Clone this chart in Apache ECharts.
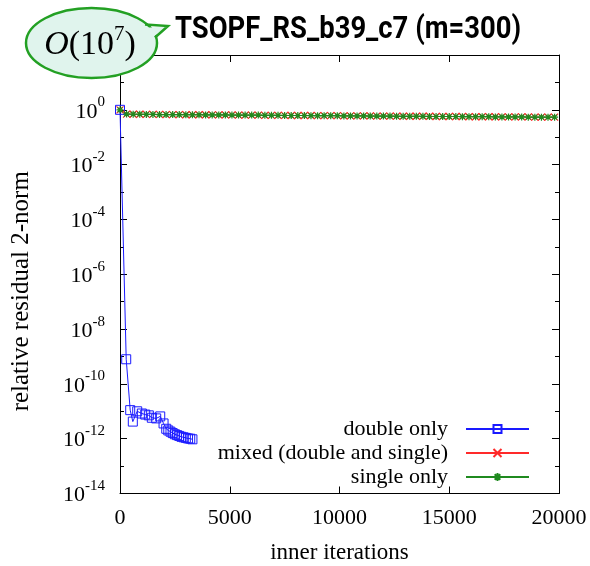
<!DOCTYPE html>
<html>
<head>
<meta charset="utf-8">
<script src="https://cdn.jsdelivr.net/npm/echarts@6/dist/echarts.min.js"></script>
<style>
  html, body { margin: 0; padding: 0; background: #fff; }
  #chart { width: 590px; height: 566px; }
</style>
</head>
<body>
<div id="chart"></div>
<script>
// Convergence history of GMRES(300) on TSOPF_RS_b39_c7
const titleText = 'TSOPF_RS_b39_c7 (m=300)';
const seriesNames = ['double only', 'mixed (double and single)', 'single only'];
const xAxisName = 'inner iterations';
const yAxisName = 'relative residual 2-norm';

// double precision run
const doubleIter = [0, 283, 465, 584, 784, 995, 1150, 1314, 1450, 1650, 1833, 1984, 2107,
  2200, 2300, 2400, 2500, 2600, 2700, 2800, 2900, 3000, 3100, 3200, 3300];
const doubleRes = [1, 7.9e-10, 1.1e-11, 4.2e-12, 1.0e-11, 8.3e-12, 7.6e-12, 7.1e-12, 5.8e-12,
  5.5e-12, 6.5e-12, 3.6e-12, 2.3e-12, 2.0e-12, 1.8e-12, 1.6e-12, 1.45e-12, 1.35e-12,
  1.26e-12, 1.17e-12, 1.12e-12, 1.07e-12, 1.02e-12, 1.0e-12, 9.5e-13];

// restart points of the mixed and single precision runs
const restartIter = [0, 300, 600, 900, 1200, 1500, 1800, 2100, 2400, 2700, 3000, 3300, 3600,
  3900, 4200, 4500, 4800, 5100, 5400, 5700, 6000, 6300, 6600, 6900, 7200, 7500, 7800,
  8100, 8400, 8700, 9000, 9300, 9600, 9900, 10200, 10500, 10800, 11100, 11400, 11700,
  12000, 12300, 12600, 12900, 13200, 13500, 13800, 14100, 14400, 14700, 15000, 15300,
  15600, 15900, 16200, 16500, 16800, 17100, 17400, 17700, 18000, 18300, 18600, 18900,
  19200, 19500, 19800];
const mixedRes = [1, 0.70, 0.69, 0.69, 0.68, 0.68, 0.68, 0.67, 0.67, 0.67, 0.66, 0.66, 0.66,
  0.66, 0.65, 0.65, 0.65, 0.65, 0.64, 0.64, 0.64, 0.64, 0.63, 0.63, 0.63, 0.63, 0.62,
  0.62, 0.62, 0.62, 0.61, 0.61, 0.61, 0.61, 0.60, 0.60, 0.60, 0.60, 0.60, 0.59,
  0.59, 0.59, 0.59, 0.58, 0.58, 0.58, 0.58, 0.58, 0.57, 0.57, 0.57, 0.57,
  0.57, 0.56, 0.56, 0.56, 0.56, 0.56, 0.55, 0.55, 0.55, 0.55, 0.55, 0.54,
  0.54, 0.54, 0.54];
const singleRes = [1, 0.70, 0.69, 0.69, 0.68, 0.68, 0.67, 0.67, 0.67, 0.67, 0.66, 0.66, 0.66,
  0.65, 0.65, 0.65, 0.65, 0.64, 0.64, 0.64, 0.64, 0.64, 0.63, 0.63, 0.63, 0.62, 0.62,
  0.62, 0.62, 0.61, 0.61, 0.61, 0.61, 0.61, 0.60, 0.60, 0.60, 0.60, 0.59, 0.59,
  0.59, 0.59, 0.58, 0.58, 0.58, 0.58, 0.58, 0.57, 0.57, 0.57, 0.57, 0.57,
  0.56, 0.56, 0.56, 0.56, 0.56, 0.55, 0.55, 0.55, 0.55, 0.55, 0.54, 0.54,
  0.54, 0.54, 0.54];

// axis ranges and tick positions
const xMin = 0, xMax = 20000, xStep = 5000;
const yMin = 1e-14, yMax = 1e2;
const yMajorTicks = [1e-14, 1e-12, 1e-10, 1e-8, 1e-6, 1e-4, 1e-2, 1e0, 1e2];
const yMinorTicks = [1e-13, 1e-11, 1e-9, 1e-7, 1e-5, 1e-3, 1e-1, 1e1];

const SERIF = '"Liberation Serif", "DejaVu Serif", serif';
const BLUE = '#1a1aff', RED = '#ff2a2a', GREEN = '#1f8a1f';
const BUBBLE_FILL = '#e0f4ed', BUBBLE_EDGE = '#23a023';

const pairs = (xs, ys) => xs.map((x, i) => [x, ys[i]]);

const axisLineStyle = { show: true, lineStyle: { color: '#000', width: 1 } };
const logBase = { type: 'log', logBase: 10, min: yMin, max: yMax, splitLine: { show: false } };
const majorTick = { inside: true, length: 7, customValues: yMajorTicks, lineStyle: { color: '#000' } };
const minorTick = { inside: true, length: 4, customValues: yMinorTicks, lineStyle: { color: '#000' } };

const chart = echarts.init(document.getElementById('chart'), null, { renderer: 'canvas' });
chart.setOption({
  animation: false,
  backgroundColor: '#fff',
  grid: { left: 120, top: 55, width: 439, height: 438.5, outerBoundsMode: 'none' },
  legend: {
    orient: 'vertical', right: 60, top: 418, align: 'right', padding: 0,
    itemWidth: 63, itemHeight: 10, itemGap: 2,
    selectedMode: false,
    textStyle: { fontFamily: SERIF, fontSize: 22, color: '#000', lineHeight: 20, padding: [0, 13, 0, 0] },
    data: seriesNames
  },
  xAxis: [
    {
      type: 'value', position: 'bottom', min: xMin, max: xMax, interval: xStep,
      axisLine: axisLineStyle,
      axisTick: { inside: true, length: 7, lineStyle: { color: '#000' } },
      axisLabel: { fontFamily: SERIF, fontSize: 22, color: '#000', margin: 14, formatter: v => String(v) },
      splitLine: { show: false },
      name: xAxisName, nameLocation: 'middle', nameGap: 48,
      nameTextStyle: { fontFamily: SERIF, fontSize: 23, color: '#000' }
    },
    {
      type: 'value', position: 'top', min: xMin, max: xMax, interval: xStep,
      axisLine: axisLineStyle,
      axisTick: { inside: true, length: 7, lineStyle: { color: '#000' } },
      axisLabel: { show: false }, splitLine: { show: false }
    }
  ],
  yAxis: [
    {
      ...logBase, position: 'left',
      axisLine: axisLineStyle,
      axisTick: majorTick,
      axisLabel: {
        margin: 15,
        customValues: yMajorTicks,
        formatter: v => `{b|10}{s|${Math.round(Math.log10(v))}}`,
        rich: {
          b: { fontFamily: SERIF, fontSize: 22, color: '#000', lineHeight: 30, padding: [4, 0, 0, 0] },
          s: { fontFamily: SERIF, fontSize: 15, color: '#000', verticalAlign: 'top' }
        }
      },
      name: yAxisName, nameLocation: 'middle', nameGap: 86,
      nameTextStyle: { fontFamily: SERIF, fontSize: 25, color: '#000', padding: [0, 34, 0, 0] }
    },
    {
      ...logBase, position: 'left',
      axisLine: { show: false },
      axisTick: minorTick,
      axisLabel: { show: false }
    },
    {
      ...logBase, position: 'right',
      axisLine: axisLineStyle,
      axisTick: majorTick,
      axisLabel: { show: false }
    },
    {
      ...logBase, position: 'right',
      axisLine: { show: false },
      axisTick: minorTick,
      axisLabel: { show: false }
    }
  ],
  series: [
    {
      name: seriesNames[0], type: 'line', xAxisIndex: 0, yAxisIndex: 0,
      data: pairs(doubleIter, doubleRes),
      symbol: 'path://M0,0L10,0L10,10L0,10Z', symbolSize: 9,
      lineStyle: { color: BLUE, width: 1 },
      itemStyle: { color: 'rgba(0,0,0,0)', borderColor: BLUE, borderWidth: 1 },
      emphasis: { disabled: true }
    },
    {
      name: seriesNames[1], type: 'line', xAxisIndex: 0, yAxisIndex: 0,
      data: pairs(restartIter, mixedRes),
      symbol: 'path://M0,0L10,10M0,10L10,0', symbolSize: 7,
      lineStyle: { color: RED, width: 1 },
      itemStyle: { color: 'rgba(0,0,0,0)', borderColor: RED, borderWidth: 1.2 },
      emphasis: { disabled: true }
    },
    {
      name: seriesNames[2], type: 'line', xAxisIndex: 0, yAxisIndex: 0,
      data: pairs(restartIter, singleRes),
      symbol: 'path://M0,5L10,5M5,0L5,10M1.5,1.5L8.5,8.5M1.5,8.5L8.5,1.5', symbolSize: 7,
      lineStyle: { color: GREEN, width: 1 },
      itemStyle: { color: 'rgba(0,0,0,0)', borderColor: GREEN, borderWidth: 1.2 },
      emphasis: { disabled: true }
    }
  ],
  graphic: [
    // chart title, set in a narrowed bold sans
    {
      type: 'text', z: 50, x: 175, y: 15, scaleX: 0.885,
      style: {
        text: titleText, align: 'left', verticalAlign: 'top',
        fontFamily: 'Roboto, "Liberation Sans", sans-serif',
        fontWeight: 'bold', fontSize: 31, fill: '#000'
      }
    },
    // speech bubble with the condition-number estimate
    {
      type: 'ellipse', z: 100,
      shape: { cx: 91.5, cy: 43, rx: 65.5, ry: 35 },
      style: { fill: BUBBLE_FILL, stroke: BUBBLE_EDGE, lineWidth: 2.5 }
    },
    {
      type: 'polygon', z: 101,
      shape: { points: [[142, 28], [166, 26.5], [151, 39], [139, 36]] },
      style: { fill: BUBBLE_FILL }
    },
    {
      type: 'polyline', z: 101,
      shape: { points: [[145, 24.5], [168, 26], [155, 37.5]] },
      style: { stroke: BUBBLE_EDGE, lineWidth: 2.5, fill: null }
    },
    {
      type: 'text', z: 102, x: 90, y: 45,
      style: {
        text: '{i|O}{n|(10}{s|7}{n|)}',
        align: 'center', verticalAlign: 'middle',
        rich: {
          i: { fontFamily: SERIF, fontStyle: 'italic', fontSize: 34, color: '#111', lineHeight: 42 },
          n: { fontFamily: SERIF, fontSize: 34, color: '#111', lineHeight: 42 },
          s: { fontFamily: SERIF, fontSize: 21, color: '#111', verticalAlign: 'top' }
        }
      }
    }
  ]
});
</script>
</body>
</html>
